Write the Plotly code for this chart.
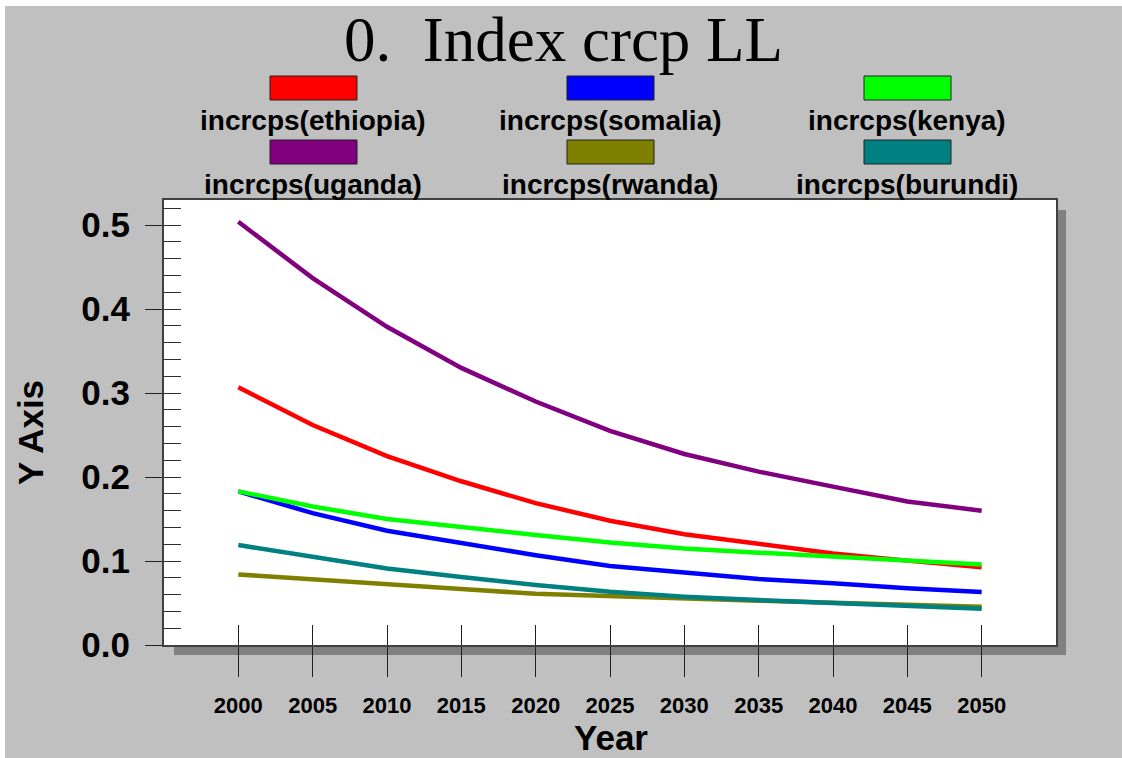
import plotly.graph_objects as go

years = [2000, 2005, 2010, 2015, 2020, 2025, 2030, 2035, 2040, 2045, 2050]

ethiopia = [0.307, 0.262, 0.225, 0.195, 0.169, 0.148, 0.132, 0.120, 0.109, 0.1005, 0.0925]
somalia = [0.183, 0.157, 0.136, 0.121, 0.107, 0.094, 0.086, 0.0786, 0.0735, 0.0675, 0.063]
kenya = [0.183, 0.165, 0.150, 0.140, 0.131, 0.122, 0.115, 0.110, 0.105, 0.100, 0.096]
uganda = [0.504, 0.437, 0.379, 0.330, 0.290, 0.255, 0.2275, 0.2065, 0.1886, 0.171, 0.160]
rwanda = [0.084, 0.078, 0.0715, 0.0667, 0.061, 0.058, 0.0556, 0.0528, 0.0504, 0.0477, 0.0457]
burundi = [0.119, 0.105, 0.091, 0.081, 0.0715, 0.0635, 0.0576, 0.0536, 0.0504, 0.0465, 0.0433]

names = ['incrcps(ethiopia)', 'incrcps(somalia)', 'incrcps(kenya)',
         'incrcps(uganda)', 'incrcps(rwanda)', 'incrcps(burundi)']
series = [ethiopia, somalia, kenya, uganda, rwanda, burundi]
colors = ['#ff0000', '#0000ff', '#00ff00', '#800080', '#808000', '#008080']

W, H = 1122, 758
L, R, T, B = 164, 1056, 200, 645
BOLD = dict(family='Liberation Sans, Arial, sans-serif', weight='bold', color='black')


def px(x):
    return (x - L) / (R - L)


def py(y):
    return (B - y) / (B - T)


fig = go.Figure()
for name, vals, col in zip(names, series, colors):
    fig.add_trace(go.Scatter(x=years, y=vals, mode='lines', name=name,
                             line=dict(color=col, width=4.5), showlegend=False))

# dummy trace so the overlay axes (inside ticks) get drawn
fig.add_trace(go.Scatter(x=[None], y=[None], xaxis='x2', yaxis='y2',
                         showlegend=False, hoverinfo='skip'))

shapes = [
    # white border strips around the gray page
    dict(type='rect', xref='paper', yref='paper', x0=px(0), x1=px(W), y0=py(6), y1=py(0),
         fillcolor='white', line_width=0, layer='below'),
    dict(type='rect', xref='paper', yref='paper', x0=px(0), x1=px(5), y0=py(H), y1=py(0),
         fillcolor='white', line_width=0, layer='below'),
    # drop shadow and white plot area
    dict(type='rect', xref='paper', yref='paper', x0=px(L + 10), x1=px(R + 10),
         y0=py(B + 10), y1=py(T + 10), fillcolor='#808080', line_width=0, layer='below'),
    dict(type='rect', xref='paper', yref='paper', x0=0, x1=1, y0=0, y1=1,
         fillcolor='white', line_width=0, layer='below'),
]

annotations = [
    dict(text='0.\u00a0\u00a0Index crcp LL', xref='paper', yref='paper', x=px(563), y=py(40),
         showarrow=False, xanchor='center', yanchor='middle',
         font=dict(family='Liberation Serif, Times New Roman, serif', size=63, color='black')),
    dict(text='Y Axis', xref='paper', yref='paper', x=px(30), y=py(433), textangle=-90,
         showarrow=False, xanchor='center', yanchor='middle', font=dict(size=35, **BOLD)),
    dict(text='Year', xref='paper', yref='paper', x=px(611), y=py(737),
         showarrow=False, xanchor='center', yanchor='middle', font=dict(size=35, **BOLD)),
]

# legend: swatch above label, 3 columns x 2 rows
col_x = [313, 610, 907]
row_sw = [(76, 100), (140, 164)]
row_tx = [120, 185]
for i, (name, col) in enumerate(zip(names, colors)):
    r, c = divmod(i, 3)
    cx = col_x[c]
    shapes.append(dict(type='rect', xref='paper', yref='paper', x0=px(cx - 43), x1=px(cx + 44),
                       y0=py(row_sw[r][1]), y1=py(row_sw[r][0]), fillcolor=col,
                       line=dict(color='#202020', width=1)))
    annotations.append(dict(text=name, xref='paper', yref='paper', x=px(cx), y=py(row_tx[r]),
                            showarrow=False, xanchor='center', yanchor='middle',
                            font=dict(size=28, **BOLD)))

xr = [1995, 2055]
yr = [0, 0.530]

fig.update_layout(
    width=W, height=H,
    margin=dict(l=L, r=W - R, t=T, b=H - B),
    paper_bgcolor='#c0c0c0',
    plot_bgcolor='rgba(0,0,0,0)',
    shapes=shapes,
    annotations=annotations,
    xaxis=dict(range=xr, tickvals=years, ticks='outside', ticklen=30, tickwidth=1,
               tickcolor='#202020', showgrid=False, zeroline=False,
               showline=True, mirror=True, linecolor='#404040', linewidth=2,
               ticklabelstandoff=10, tickfont=dict(size=22, **BOLD)),
    yaxis=dict(range=yr, tickvals=[0, 0.1, 0.2, 0.3, 0.4, 0.5], tickformat='.1f',
               ticks='outside', ticklen=17, tickwidth=1, tickcolor='#202020',
               showgrid=False, zeroline=False,
               showline=True, mirror=True, linecolor='#404040', linewidth=2,
               ticklabelstandoff=8, tickfont=dict(size=35, **BOLD)),
    xaxis2=dict(range=xr, overlaying='x', anchor='y', side='bottom', tickvals=years,
                ticks='inside', ticklen=20, tickwidth=1, tickcolor='#202020',
                showticklabels=False, showgrid=False, zeroline=False, showline=False),
    yaxis2=dict(range=yr, overlaying='y', anchor='x', side='left', tick0=0, dtick=0.02,
                ticks='inside', ticklen=17, tickwidth=1, tickcolor='#303030',
                showticklabels=False, showgrid=False, zeroline=False, showline=False),
)

fig.write_html("out.html", config={'displayModeBar': False},
               post_script="document.body.style.margin='0';document.body.style.overflow='hidden';")
